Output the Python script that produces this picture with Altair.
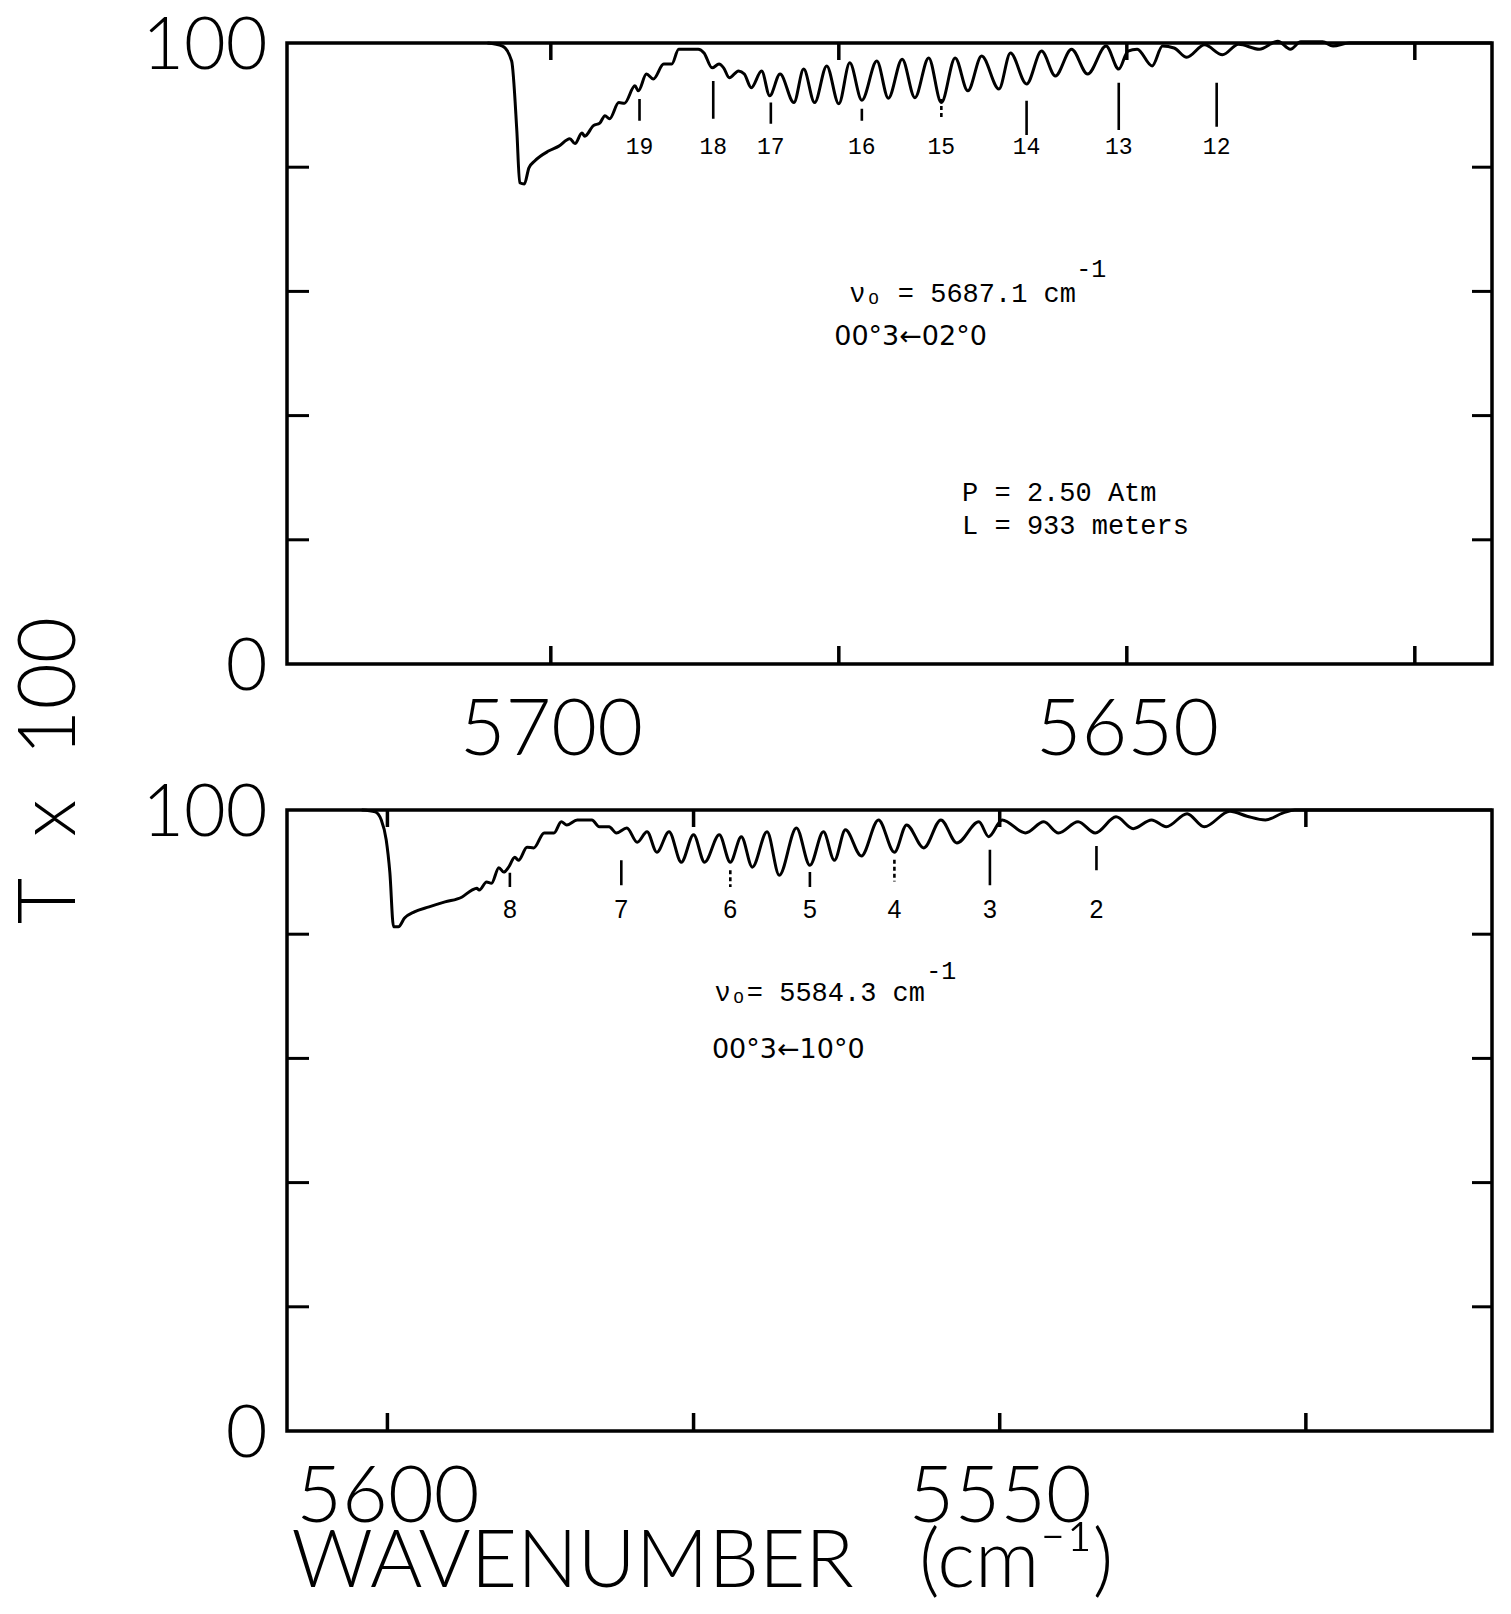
import altair as alt
import pandas as pd

# ---------------- data ----------------
# upper panel spectrum (wavenumber cm-1, T x 100)
top_wn = [5705.5, 5704.2, 5703.4, 5702.95, 5702.7, 5702.3, 5701.9, 5701.4, 5700.2, 5699.3,
          5698.35, 5697.9, 5697.3, 5697.05, 5696.3, 5695.75, 5695.3, 5694.9, 5694.1, 5693.6,
          5692.7, 5692.4, 5691.7, 5691.1, 5690.2, 5689.5, 5688.9, 5687.2, 5686.7, 5686.0,
          5685.4, 5685.0, 5684.5, 5683.7, 5683.2, 5682.6, 5681.7, 5681.0, 5680.1, 5678.9,
          5678.05, 5677.1, 5676.05, 5675.0, 5674.05, 5673.0, 5671.7, 5670.7, 5669.5, 5668.4,
          5667.2, 5666.1, 5664.9, 5663.8, 5662.6, 5661.1, 5660.1, 5658.7, 5657.4, 5656.2,
          5654.8, 5653.4, 5651.8, 5650.7, 5649.9, 5649.1, 5647.8, 5646.9, 5645.9, 5644.8,
          5643.25, 5641.7, 5640.3, 5638.5, 5636.9, 5635.8, 5634.9, 5633.0, 5632.1, 5630.7,
          5618.3]
top_t = [100.0, 99.5, 97.1, 85.9, 77.5, 77.3, 79.9, 81.0, 82.6, 83.4,
         84.6, 83.8, 85.5, 85.0, 86.7, 87.1, 88.3, 87.8, 90.4, 90.3,
         93.1, 92.3, 95.0, 94.2, 96.6, 96.6, 99.0, 99.0, 98.4, 96.0,
         96.6, 96.0, 94.4, 95.5, 95.0, 92.8, 95.5, 91.5, 95.0, 90.4,
         95.8, 90.4, 96.3, 90.2, 96.8, 90.8, 97.1, 91.1, 97.4, 91.2,
         97.6, 90.4, 97.6, 92.3, 97.9, 92.6, 98.4, 93.4, 98.7, 94.7,
         99.0, 95.0, 99.5, 95.8, 98.7, 99.0, 96.3, 99.5, 99.2, 97.7,
         99.7, 98.1, 99.8, 99.0, 100.3, 99.0, 100.2, 100.2, 99.5, 100.0,
         100.0]

# lower panel spectrum
bot_wn = [5602.1, 5601.0, 5600.5, 5600.1, 5599.8, 5599.5, 5599.1, 5598.6, 5597.8, 5596.6,
          5595.3, 5593.9, 5593.1, 5592.7, 5592.5, 5591.9, 5591.5, 5590.9, 5590.5, 5590.1,
          5589.6, 5589.3, 5588.6, 5588.05, 5587.2, 5586.4, 5585.8, 5585.35, 5584.5, 5583.3,
          5582.7, 5581.9, 5581.3, 5580.45, 5579.6, 5578.8, 5578.0, 5577.0, 5576.0, 5575.0,
          5574.1, 5572.9, 5572.0, 5571.1, 5570.2, 5569.0, 5568.0, 5566.6, 5565.5, 5564.4,
          5563.5, 5562.6, 5561.3, 5559.9, 5558.6, 5557.6, 5556.2, 5554.8, 5553.5, 5551.7,
          5550.9, 5549.8, 5547.9, 5546.4, 5545.2, 5543.6, 5542.2, 5540.5, 5539.1, 5537.6,
          5536.4, 5534.7, 5533.3, 5531.2, 5529.8, 5528.3, 5526.9, 5525.9, 5509.8]
bot_t = [100.0, 99.7, 98.4, 95.2, 89.9, 81.2, 81.2, 82.6, 83.6, 84.4,
         85.2, 86.0, 87.1, 87.4, 87.1, 88.4, 88.2, 90.7, 90.0, 90.8,
         92.4, 91.9, 94.0, 93.9, 96.3, 96.3, 98.1, 97.6, 98.4, 98.4,
         97.3, 97.3, 96.3, 97.1, 94.8, 96.5, 93.2, 96.5, 91.6, 96.0,
         91.6, 96.0, 91.6, 95.7, 90.8, 96.5, 89.5, 97.1, 91.1, 96.5,
         91.9, 96.8, 92.6, 98.4, 93.2, 97.6, 93.9, 98.4, 94.7, 98.1,
         95.7, 98.4, 96.3, 98.1, 96.3, 98.1, 96.3, 98.9, 97.0, 98.4,
         97.3, 99.4, 97.3, 99.8, 99.0, 98.4, 99.5, 100.0, 100.0]

top_domain = [5722.9, 5618.3]
bot_domain = [5608.2, 5509.8]
top_tick_wn = [5700, 5675, 5650, 5625]
bot_tick_wn = [5600, 5575, 5550, 5525]
top_label_wn = [5700, 5650]
bot_label_wn = [5600, 5550]
y_tick_t = [20, 40, 60, 80]
y_label_t = [0, 100]

# rotational line markers
top_mk_wn = [5692.3, 5685.9, 5680.9, 5673.0, 5666.1, 5658.7, 5650.7, 5642.2]
top_mk_lab = ["19", "18", "17", "16", "15", "14", "13", "12"]
top_mk_hi = [91.0, 93.9, 90.4, 89.4, 91.0, 90.7, 93.6, 93.6]
top_mk_lo = [87.5, 87.8, 87.0, 87.5, 87.8, 85.2, 86.0, 86.5]
top_mk_text_t = 83.3

bot_mk_wn = [5590.0, 5580.9, 5572.0, 5565.5, 5558.6, 5550.8, 5542.1]
bot_mk_lab = ["8", "7", "6", "5", "4", "3", "2"]
bot_mk_hi = [89.9, 91.9, 90.3, 90.0, 92.0, 93.6, 94.2]
bot_mk_lo = [87.6, 87.9, 87.6, 87.6, 88.5, 87.9, 90.3]
bot_mk_text_t = 83.9

# annotations (anchor wavenumber, anchor T, text)
top_typed_wn = [5674.1, 5664.3, 5664.3]
top_typed_t = [59.6, 27.5, 22.3]
top_typed_txt = ["\u03bd\u2092 = 5687.1 cm", "P = 2.50 Atm", "L = 933 meters"]
top_sup = ("-1", 5654.4, 63.6)
top_band = ("00\u00b03\u219002\u00b00", 5675.4, 52.6)

bot_typed_wn = [5573.3]
bot_typed_t = [70.5]
bot_typed_txt = ["\u03bd\u2092= 5584.3 cm"]
bot_sup = ("-1", 5556.0, 74.0)
bot_band = ("00\u00b03\u219010\u00b00", 5573.5, 61.4)

W, H = 1205, 621
BIG = "Lato"


def panel(wn, t, domain, tick_wn, label_wn, mk_wn, mk_lab, mk_hi, mk_lo, mk_text_t,
          typed_wn, typed_t, typed_txt, sup, band, mk_font, mk_size, dashed,
          ytitle, xtitle):
    xs = alt.Scale(domain=domain, nice=False, zero=False)
    ys = alt.Scale(domain=[0, 100], nice=False, zero=False)

    yaxis_kw = dict(values=y_label_t, ticks=False, domain=False, grid=False,
                    labelFontSize=72, labelFont=BIG, labelFontWeight=300,
                    labelPadding=20, labelColor="black", labelFlush=False,
                    labelOffset=3, labelLimit=0)
    if ytitle:
        yaxis_kw.update(title=ytitle, titleFontSize=80, titleFont=BIG, titleFontWeight=300,
                        titleAngle=270, titleX=-237, titleY=727, titleAlign="center",
                        titleBaseline="middle", titleColor="black", titleLimit=0)
    else:
        yaxis_kw.update(title=None)
    xaxis_kw = dict(values=label_wn, format="d", ticks=False, tickSize=0, domain=False,
                    grid=False, labelFontSize=79, labelFont=BIG, labelFontWeight=300,
                    labelPadding=28, labelColor="black", labelFlush=False, labelLimit=0)
    if xtitle:
        xaxis_kw.update(title=xtitle, titleFontSize=80, titleFont=BIG, titleFontWeight=300,
                        titleX=415, titleY=131, titleAlign="center", titleBaseline="middle",
                        titleColor="black", titleLimit=0)
    else:
        xaxis_kw.update(title=None)

    X = lambda f: alt.X(f, scale=xs)
    Y = lambda f: alt.Y(f, scale=ys)

    spec = pd.DataFrame({"wn": wn, "t": t})
    line = alt.Chart(spec).mark_line(color="black", strokeWidth=3,
                                     interpolate="monotone").encode(
        x=alt.X("wn:Q", scale=xs, axis=alt.Axis(**xaxis_kw)),
        y=alt.Y("t:Q", scale=ys, axis=alt.Axis(**yaxis_kw)),
        order="wn:Q",
    )

    tdf = pd.DataFrame({"wn": tick_wn})
    xt_bot = alt.Chart(tdf).mark_rule(color="black", strokeWidth=3.5).encode(
        x=X("wn:Q"), y=alt.value(H), y2=alt.value(H - 18))
    xt_top = alt.Chart(tdf).mark_rule(color="black", strokeWidth=3.5).encode(
        x=X("wn:Q"), y=alt.value(0), y2=alt.value(17))

    ydf = pd.DataFrame({"t": y_tick_t})
    yt_left = alt.Chart(ydf).mark_rule(color="black", strokeWidth=3).encode(
        y=Y("t:Q"), x=alt.value(0), x2=alt.value(22))
    yt_right = alt.Chart(ydf).mark_rule(color="black", strokeWidth=3).encode(
        y=Y("t:Q"), x=alt.value(W - 20), x2=alt.value(W))

    mdf = pd.DataFrame({"wn": mk_wn, "label": mk_lab, "hi": mk_hi, "lo": mk_lo,
                        "tt": [mk_text_t] * len(mk_wn)})
    mk = alt.Chart(mdf).mark_rule(color="black", strokeWidth=2.6).encode(
        x=X("wn:Q"),
        y=Y("hi:Q"),
        y2="lo:Q",
        strokeDash=alt.condition(alt.FieldOneOfPredicate(field="label", oneOf=dashed),
                                 alt.value([4, 3]), alt.value([1, 0])),
    )
    mk_txt = alt.Chart(mdf).mark_text(color="black", font=mk_font, fontSize=mk_size,
                                      align="center", baseline="middle").encode(
        x=X("wn:Q"), y=Y("tt:Q"), text="label:N",
    )

    adf = pd.DataFrame({"wn": typed_wn, "t": typed_t, "txt": typed_txt})
    typed = alt.Chart(adf).mark_text(color="black", font="Liberation Mono", fontSize=27,
                                     align="left", baseline="middle").encode(
        x=X("wn:Q"), y=Y("t:Q"), text="txt:N",
    )
    sdf = pd.DataFrame({"wn": [sup[1]], "t": [sup[2]], "txt": [sup[0]]})
    supm = alt.Chart(sdf).mark_text(color="black", font="Liberation Mono", fontSize=25,
                                    align="left", baseline="middle").encode(
        x=X("wn:Q"), y=Y("t:Q"), text="txt:N",
    )
    bdf = pd.DataFrame({"wn": [band[1]], "t": [band[2]], "txt": [band[0]]})
    bandm = alt.Chart(bdf).mark_text(color="black", font="DejaVu Sans", fontSize=27,
                                     align="left", baseline="middle").encode(
        x=X("wn:Q"), y=Y("t:Q"), text="txt:N",
    )

    return alt.layer(line, xt_bot, xt_top, yt_left, yt_right, mk, mk_txt,
                     typed, supm, bandm).properties(width=W, height=H)


top = panel(top_wn, top_t, top_domain, top_tick_wn, top_label_wn, top_mk_wn, top_mk_lab,
            top_mk_hi, top_mk_lo, top_mk_text_t, top_typed_wn, top_typed_t, top_typed_txt,
            top_sup, top_band, "Liberation Mono", 23, ["15"],
            "T\u00a0\u00a0x\u00a0\u00a0100", None)
bottom = panel(bot_wn, bot_t, bot_domain, bot_tick_wn, bot_label_wn, bot_mk_wn, bot_mk_lab,
               bot_mk_hi, bot_mk_lo, bot_mk_text_t, bot_typed_wn, bot_typed_t, bot_typed_txt,
               bot_sup, bot_band, "Liberation Sans Narrow, Liberation Sans", 25, ["6", "4"],
               None, "WAVENUMBER\u00a0\u00a0\u00a0(cm\u207b\u00b9)")

chart = alt.vconcat(top, bottom, spacing=146, bounds="flush").properties(
    padding=0, background="white"
).configure_view(stroke="black", strokeWidth=3.5).configure_axis(
    labelColor="black", titleColor="black")

chart.save("out.html", embed_options={"renderer": "svg", "actions": False})
